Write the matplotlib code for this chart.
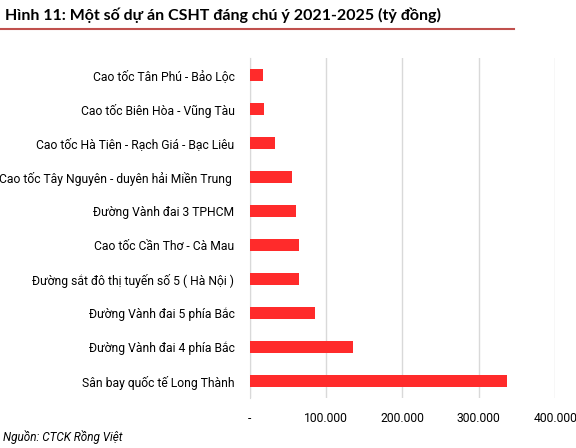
import numpy as np
import matplotlib.pyplot as plt
from matplotlib.ticker import FuncFormatter

# Dữ liệu (tỷ đồng)
projects = [
    "Cao tốc Tân Phú - Bảo Lộc",
    "Cao tốc Biên Hòa - Vũng Tàu",
    "Cao tốc Hà Tiên - Rạch Giá - Bạc Liêu",
    "Cao tốc Tây Nguyên - duyên hải Miền Trung ",
    "Đường Vành đai 3 TPHCM",
    "Cao tốc Cần Thơ - Cà Mau",
    "Đường sắt đô thị tuyến số 5 ( Hà Nội )",
    "Đường Vành đai 5 phía Bắc",
    "Đường Vành đai 4 phía Bắc",
    "Sân bay quốc tế Long Thành",
]
values = [17800, 18700, 32700, 55800, 60200, 64100, 65000, 85000, 135200, 336800]
xticks = [0, 100000, 200000, 300000, 400000]

plt.rcParams["font.family"] = ["Roboto", "DejaVu Sans"]

fig = plt.figure(figsize=(5.76, 4.48), dpi=100)
ax = fig.add_axes([0.4335, 0.1116, 0.5305, 0.7589])

y = np.arange(len(projects))
ax.barh(y, values, height=0.36, color="#ff2b2b", zorder=3)

ax.set_ylim(len(projects) - 0.5, -0.5)
ax.set_xlim(0, 400000)
ax.set_yticks(y)
ax.set_yticklabels(projects, fontsize=8.7)
ax.set_xticks(xticks)
ax.xaxis.set_major_formatter(FuncFormatter(
    lambda v, p: "-" if v == 0 else f"{int(v):,}".replace(",", ".")))
ax.tick_params(axis="x", labelsize=8.7, length=0, pad=10)
ax.tick_params(axis="y", length=0, pad=11)

ax.grid(axis="x", color="#d9d9d9", linewidth=1, zorder=0)
for s in ["top", "right", "bottom"]:
    ax.spines[s].set_visible(False)
ax.spines["left"].set_color("#d9d9d9")

# tiêu đề và đường kẻ dưới
fig.text(0.008, 0.966, "Hình 11: Một số dự án CSHT đáng chú ý 2021-2025 (tỷ đồng)",
         fontsize=11.5, fontweight="bold", va="center", ha="left",
         family=["Lato", "DejaVu Sans"])
fig.add_artist(plt.Line2D([0, 0.893], [0.935, 0.935], color="#c0504d", linewidth=1.5))

fig.text(0.005, 0.025, "Nguồn: CTCK Rồng Việt", fontsize=8.5, style="italic",
         va="center", ha="left")

fig.savefig("out.png", dpi=100)
